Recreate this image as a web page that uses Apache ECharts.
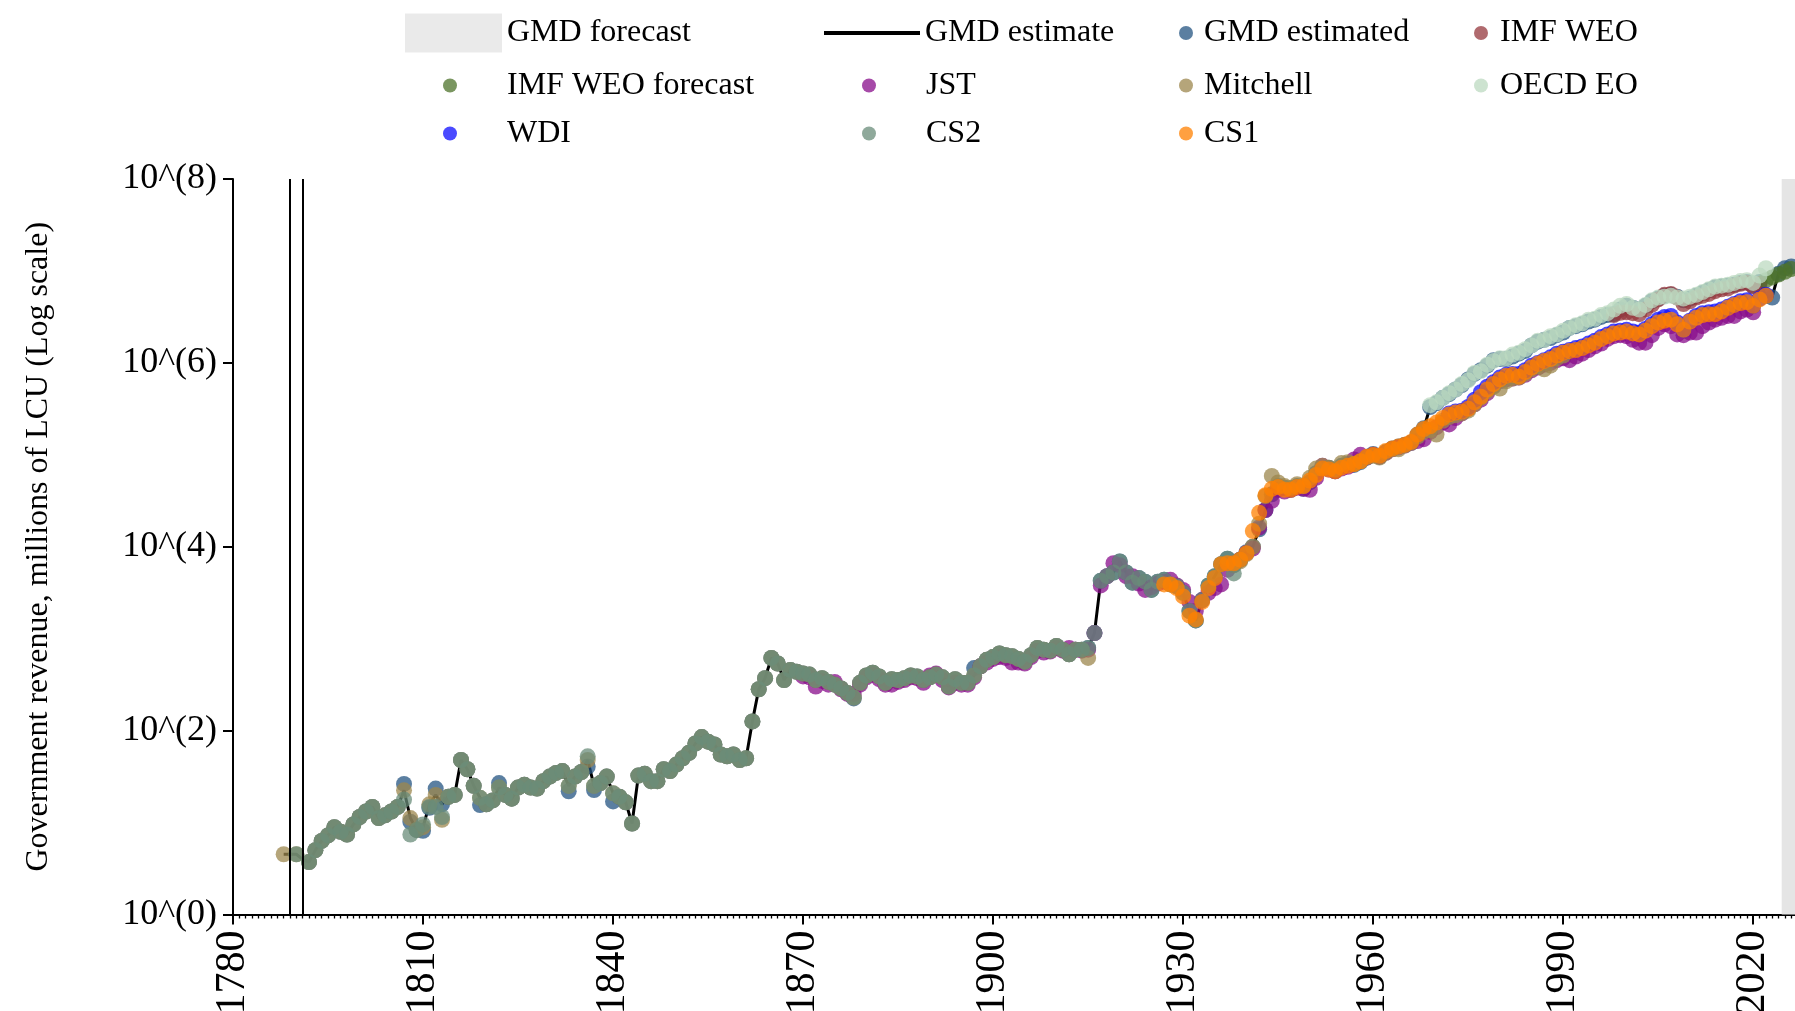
<!DOCTYPE html>
<html><head><meta charset="utf-8">
<script src="https://cdn.jsdelivr.net/npm/echarts@6/dist/echarts.min.js"></script>
<style>html,body{margin:0;padding:0;background:#fff}#c{width:1795px;height:1011px}</style>
</head><body><div id="c"></div>
<script>
function range(a,b){const r=[];for(let y=a;y<=b;y++)r.push(y);return r;}

// ---- axis / layout data ----
const xTickLabels = [1780,1810,1840,1870,1900,1930,1960,1990,2020];
const yTickValues = [1,1e2,1e4,1e6,1e8];
const forecastStart = 2024.5;
const axisEnd = 2026.6;
const gapYears = [1789, 1791];

// ---- GMD estimate (black line) ----
const gmdLineYears = [1788,1790,1791].concat(range(1792,2026));
const gmdLineValues = [4.52,4.52,3.98,
3.72,5.01,6.31,7.24,8.91,7.94,7.41,9.55,11.5,13.2,
14.8,11.2,12.0,13.2,14.8,22.4,11.2,8.32,8.91,15.8,
20.0,15.8,19.1,20.0,47.9,38.0,25.1,18.6,15.8,17.4,
24.0,20.0,18.2,24.0,25.7,24.0,23.4,28.2,31.6,34.7,
36.3,25.1,31.6,35.5,47.9,25.1,26.9,31.6,20.9,19.1,
16.6,9.77,32.4,33.9,28.2,28.2,38.0,36.3,42.7,50.1,
57.5,72.4,85.1,75.9,70.8,55.0,52.5,55.0,47.9,50.1,
126,282,372,617,537,355,457,437,417,407,
355,372,339,316,288,257,229,331,398,427,
389,331,363,355,372,398,389,355,380,407,
380,302,363,331,331,398,501,589,631,692,
661,646,603,562,661,794,759,741,832,759,
676,759,759,794,1150,4270,4790,5250,6920,5250,
4070,4570,4170,3390,4170,4370,3890,3720,3160,2000,
1580,2630,3800,4790,6460,7410,6310,7240,8710,10000,
15500,25100,37200,45700,43700,41700,45700,42700,50100,63100,
70800,72400,66100,75900,79400,77600,83200,93300,102000,95500,
107000,117000,123000,129000,135000,166000,195000,331000,363000,417000,
457000,513000,575000,661000,759000,832000,933000,1.07e6,1.10e6,1.10e6,
1.17e6,1.26e6,1.35e6,1.55e6,1.70e6,1.78e6,1.86e6,2.00e6,2.14e6,2.40e6,
2.51e6,2.63e6,2.82e6,2.95e6,3.16e6,3.31e6,3.39e6,3.80e6,4.17e6,3.98e6,
3.80e6,4.17e6,4.68e6,5.01e6,5.37e6,5.50e6,5.25e6,4.79e6,5.01e6,5.37e6,
5.75e6,6.17e6,6.61e6,6.76e6,6.92e6,7.08e6,7.41e6,7.59e6,6.92e6,7.59e6,
5.37e6,5.25e6,9.33e6,1.02e7,1.10e7];

// ---- GMD estimated (dots) ----
const gmdEstYears = range(1792,2026);
const gmdEstValues = [
3.72,5.01,6.31,7.24,8.91,7.94,7.41,9.55,11.5,13.2,
14.8,11.2,12.0,13.2,14.8,26.3,10.2,8.32,8.13,14.5,
23.4,15.8,19.1,20.0,47.9,38.0,25.1,15.5,15.8,17.4,
26.9,20.0,18.2,24.0,25.7,24.0,23.4,28.2,31.6,34.7,
36.3,21.9,31.6,35.5,40.7,22.6,26.9,31.6,17.0,19.1,
16.6,9.77,32.4,33.9,28.2,28.2,38.0,36.3,42.7,50.1,
57.5,72.4,85.1,75.9,70.8,55.0,52.5,55.0,47.9,50.1,
126,282,372,617,537,355,457,437,417,407,
355,372,339,316,288,257,224,331,398,427,
389,331,363,355,372,398,389,355,380,407,
380,302,363,331,331,479,501,589,631,692,
661,646,603,562,661,794,759,741,832,759,
676,759,759,794,1150,4270,4790,5250,6920,5250,
4070,4570,4170,3390,4170,4370,3890,3720,3160,2000,
1580,2630,3800,4790,6460,7410,6310,7240,8710,10000,
15500,25100,37200,45700,43700,41700,45700,42700,50100,63100,
70800,72400,66100,75900,79400,77600,83200,93300,102000,95500,
107000,117000,123000,129000,135000,166000,195000,331000,363000,417000,
457000,513000,575000,661000,759000,832000,933000,1.07e6,1.10e6,1.10e6,
1.17e6,1.26e6,1.35e6,1.55e6,1.70e6,1.78e6,1.86e6,2.00e6,2.14e6,2.40e6,
2.51e6,2.63e6,2.82e6,2.95e6,3.16e6,3.31e6,3.39e6,3.80e6,4.17e6,3.98e6,
3.80e6,4.17e6,4.68e6,5.01e6,5.37e6,5.50e6,5.25e6,4.79e6,5.01e6,5.37e6,
5.75e6,6.17e6,6.61e6,6.76e6,6.92e6,7.08e6,7.41e6,7.59e6,6.92e6,7.59e6,
5.37e6,5.13e6,9.33e6,1.07e7,1.12e7];

// ---- CS2 ----
const cs2Years = [1790].concat(range(1792,1939));
const cs2Values = [4.52,
3.72,5.01,6.31,7.24,8.91,7.94,7.41,9.55,11.5,13.2,
14.8,11.2,12.0,13.2,14.8,17.8,7.41,8.32,9.55,14.8,
14.8,11.5,19.1,20.0,47.9,38.0,25.1,18.6,15.8,17.4,
24.0,20.0,18.2,24.0,25.7,24.0,23.4,28.2,31.6,34.7,
36.3,25.1,31.6,35.5,52.5,25.1,26.9,31.6,20.9,19.1,
16.6,9.77,32.4,33.9,28.2,28.2,38.0,36.3,42.7,50.1,
57.5,72.4,85.1,75.9,70.8,55.0,52.5,55.0,47.9,50.1,
126,282,372,617,537,355,457,437,417,407,
355,372,339,316,288,257,229,331,398,427,
389,331,363,355,372,398,389,355,380,407,
380,302,363,331,331,398,501,589,631,692,
661,646,603,562,661,794,759,741,832,759,
676,759,759,794,1150,4270,4790,5250,6920,5250,
4070,4570,4170,3390,4170,4370,3890,3720,3160,2000,
1580,2630,3800,4790,6460,7410,5130,7240];

// ---- Mitchell ----
const mitchellYears = [1788,1790].concat(range(1792,1915), range(1938,1990));
const mitchellValues = [4.52,4.52,
3.72,5.01,6.31,7.24,8.91,7.94,7.41,9.55,11.5,13.2,
14.8,11.2,12.0,13.2,14.8,22.4,11.2,8.32,8.91,15.8,
20.0,10.7,19.1,20.0,47.9,38.0,25.1,18.6,15.8,17.4,
24.0,20.0,18.2,24.0,25.7,24.0,23.4,28.2,31.6,34.7,
36.3,25.1,31.6,35.5,47.9,25.1,26.9,31.6,20.9,19.1,
16.6,9.77,32.4,33.9,28.2,28.2,38.0,36.3,42.7,50.1,
57.5,72.4,85.1,75.9,70.8,55.0,52.5,55.0,47.9,50.1,
126,282,372,617,537,355,457,437,417,407,
355,372,339,316,288,257,229,331,398,427,
389,331,363,355,372,398,389,355,380,407,
380,302,363,331,331,398,501,589,631,692,
661,646,603,562,661,794,759,741,832,759,
676,759,759,617,
6310,6920,8320,10000,17800,35500,58900,50100,45700,43700,
47900,45700,56200,70800,75900,72400,69200,81300,83200,79400,
85100,93300,97700,93300,105000,115000,115000,126000,135000,158000,
178000,186000,166000,234000,257000,269000,282000,302000,355000,417000,
490000,550000,525000,631000,676000,692000,759000,851000,912000,851000,
933000,1.12e6,1.20e6];

// ---- JST ----
const jstYears = range(1870,2020);
const jstValues = [
389,380,302,347,316,339,282,251,251,316,
380,407,363,316,316,339,355,380,372,331,
398,417,355,295,331,316,316,380,501,550,
603,631,617,550,550,537,631,741,708,724,
794,741,794,759,741,759,1150,3800,4790,6610,
6310,4790,4790,3980,3390,3630,3980,4170,4370,3800,
3390,2510,2000,2630,3160,3550,3890,5620,6610,7240,
8510,9550,16200,25100,31600,41700,39800,41700,43700,42700,
41700,56200,75900,69200,66100,70800,74100,89100,100000,93300,
100000,95500,105000,115000,120000,126000,135000,141000,148000,178000,
200000,224000,214000,251000,282000,316000,355000,398000,468000,562000,
631000,661000,676000,692000,741000,832000,891000,955000,1.0e6,1.07e6,
1.12e6,1.07e6,1.17e6,1.26e6,1.38e6,1.51e6,1.62e6,1.82e6,1.95e6,2.0e6,
1.95e6,1.78e6,1.66e6,1.66e6,2.0e6,2.4e6,2.63e6,2.51e6,2.04e6,2.0e6,
2.14e6,2.14e6,2.51e6,2.75e6,2.95e6,3.09e6,3.24e6,3.24e6,3.63e6,3.8e6,
3.55e6];

// ---- CS1 ----
const cs1Years = range(1927,2022);
const cs1Values = [
3890,3890,3550,2880,1780,1620,2510,3550,4570,6460,
6610,6610,7240,8510,14800,23400,36300,42700,44700,41700,
41700,44700,45700,52500,60300,70800,69200,66100,72400,75900,
79400,85100,95500,100000,97700,110000,117000,123000,129000,138000,
166000,191000,204000,224000,251000,275000,288000,295000,316000,372000,
427000,513000,589000,661000,724000,741000,708000,794000,891000,977000,
1.05e6,1.10e6,1.20e6,1.29e6,1.35e6,1.38e6,1.45e6,1.55e6,1.66e6,1.82e6,
1.95e6,2.09e6,2.14e6,2.19e6,2.09e6,2.04e6,2.24e6,2.51e6,2.75e6,2.88e6,
2.95e6,2.63e6,2.29e6,2.82e6,3.09e6,3.31e6,3.39e6,3.39e6,3.63e6,3.98e6,
4.27e6,4.47e6,4.57e6,4.17e6,4.90e6,5.37e6];

// ---- WDI ----
const wdiYears = range(1972,2022);
const wdiValues = [
282000,295000,302000,331000,398000,479000,550000,617000,692000,741000,
759000,759000,832000,933000,1.0e6,1.07e6,1.15e6,1.26e6,1.32e6,1.38e6,
1.45e6,1.51e6,1.62e6,1.74e6,1.91e6,2.04e6,2.19e6,2.24e6,2.29e6,2.19e6,
2.14e6,2.34e6,2.63e6,2.95e6,3.16e6,3.24e6,2.75e6,2.29e6,2.88e6,3.24e6,
3.47e6,3.55e6,3.63e6,3.80e6,4.07e6,4.37e6,4.68e6,4.79e6,4.17e6,5.01e6,
5.50e6];

// ---- OECD EO ----
const oecdYears = range(1969,2022);
const oecdValues = [
347000,372000,417000,468000,513000,589000,646000,776000,813000,955000,
1.05e6,1.12e6,1.12e6,1.23e6,1.29e6,1.41e6,1.55e6,1.74e6,1.78e6,1.95e6,
2.04e6,2.24e6,2.40e6,2.57e6,2.69e6,2.95e6,3.02e6,3.31e6,3.47e6,3.80e6,
4.17e6,4.37e6,3.98e6,3.80e6,4.27e6,4.79e6,5.13e6,5.25e6,5.37e6,5.13e6,
5.01e6,5.25e6,5.50e6,5.89e6,6.31e6,6.76e6,6.92e6,7.08e6,7.41e6,7.76e6,
7.94e6,7.41e6,8.91e6,1.07e7];

// ---- IMF WEO ----
const imfYears = range(1998,2021);
const imfValues = [
3.31e6,3.51e6,3.55e6,3.47e6,3.39e6,3.80e6,4.27e6,4.90e6,5.50e6,5.62e6,
5.13e6,4.37e6,4.68e6,5.13e6,5.37e6,5.62e6,6.03e6,6.31e6,6.46e6,6.92e6,
7.24e6,7.41e6,6.76e6,7.24e6];

// ---- IMF WEO forecast ----
const imfFcYears = range(2022,2026);
const imfFcValues = [7.94e6,8.51e6,9.12e6,9.77e6,1.05e7];

// ---- rendering ----
const FONT = 'Liberation Serif';
const ALPHA = 0.75;
const pair = (ys, vs) => ys.map((y, i) => [y, vs[i]]);
function dots(name, color, ys, vs) {
  return { name, type: 'scatter', z: 3, data: pair(ys, vs), symbol: 'circle', symbolSize: 16,
    itemStyle: { color, opacity: ALPHA }, silent: true };
}
function leg(name, left, top, w, h, icon, extra) {
  return Object.assign({
    data: [{ name, icon }], left, top, itemWidth: w, itemHeight: h, padding: 0,
    selectedMode: false, orient: 'horizontal',
    textStyle: { fontFamily: FONT, fontSize: 32, color: '#000', lineHeight: 39 }
  }, extra || {});
}
const r1 = 13.5, r2 = 66, r3 = 114;

const chart = echarts.init(document.getElementById('c'), null, { renderer: 'canvas' });
chart.setOption({
  animation: false,
  backgroundColor: '#fff',
  grid: { left: 233, right: 0, top: 179, bottom: 96.5, containLabel: false, outerBoundsMode: 'none' },
  legend: [
    leg('GMD forecast', 405, r1, 97, 39, 'rect'),
    leg('GMD estimate', 822, r1, 96, 39, undefined,
      { lineStyle: { width: 4, color: '#000' }, itemStyle: { opacity: 0 } }),
    leg('GMD estimated', 1179, r1, 26, 14, 'circle'),
    leg('IMF WEO', 1474, r1, 28, 14, 'circle'),
    leg('IMF WEO forecast', 443, r2, 104, 14, 'circle'),
    leg('JST', 862, r2, 104, 14, 'circle'),
    leg('Mitchell', 1179, r2, 26, 14, 'circle'),
    leg('OECD EO', 1474, r2, 28, 14, 'circle'),
    leg('WDI', 443, r3, 104, 14, 'circle'),
    leg('CS2', 862, r3, 104, 14, 'circle'),
    leg('CS1', 1179, r3, 26, 14, 'circle')
  ],
  xAxis: {
    type: 'value', min: 1780, max: axisEnd, interval: 30,
    axisLine: { show: true, onZero: false, lineStyle: { color: '#000', width: 2 } },
    axisTick: { show: true, length: 10, customValues: xTickLabels, lineStyle: { color: '#000', width: 2 } },
    minorTick: { show: true, splitNumber: 30, length: 4, lineStyle: { color: '#000', width: 1.3 } },
    axisLabel: { rotate: 90, margin: 16, fontFamily: FONT, fontSize: 42, color: '#000',
      customValues: xTickLabels, formatter: v => String(v) },
    splitLine: { show: false }, minorSplitLine: { show: false }
  },
  yAxis: {
    type: 'log', logBase: 10, min: 1, max: 1e8,
    name: 'Government revenue, millions of LCU (Log scale)', nameLocation: 'middle',
    nameGap: 178, nameRotate: 90,
    nameTextStyle: { fontFamily: FONT, fontSize: 32, color: '#000' },
    axisLine: { show: true, lineStyle: { color: '#000', width: 2 } },
    axisTick: { show: true, length: 10, customValues: yTickValues, lineStyle: { color: '#000', width: 2 } },
    axisLabel: { customValues: yTickValues, margin: 16, fontFamily: FONT, fontSize: 36, color: '#000',
      formatter: v => '10^(' + Math.round(Math.log10(v)) + ')' },
    splitLine: { show: false }, minorTick: { show: false }
  },
  series: [
    { name: 'GMD forecast', type: 'scatter', z: 0, data: [], itemStyle: { color: '#e5e5e5' },
      markArea: { silent: true, itemStyle: { color: '#e5e5e5' },
        data: [[{ xAxis: forecastStart }, { xAxis: axisEnd }]] } },
    { name: 'GMD estimate', type: 'line', z: 1, data: pair(gmdLineYears, gmdLineValues),
      symbol: 'none', showSymbol: false, silent: true,
      lineStyle: { color: '#000', width: 3 }, itemStyle: { color: '#000' },
      markLine: { silent: true, symbol: ['none', 'none'], label: { show: false },
        lineStyle: { color: '#000', width: 2, type: 'solid' },
        data: gapYears.map(y => ({ xAxis: y })) } },
    dots('GMD estimated', '#245481', gmdEstYears, gmdEstValues),
    dots('IMF WEO', '#95383d', imfYears, imfValues),
    dots('IMF WEO forecast', '#4d732b', imfFcYears, imfFcValues),
    dots('JST', '#880d8b', jstYears, jstValues),
    dots('Mitchell', '#9c874d', mitchellYears, mitchellValues),
    dots('OECD EO', '#bcd9c0', oecdYears, oecdValues),
    dots('WDI', '#0d0dff', wdiYears, wdiValues),
    dots('CS2', '#698c79', cs2Years, cs2Values),
    dots('CS1', '#ff8000', cs1Years, cs1Values)
  ]
});
</script>
</body></html>
